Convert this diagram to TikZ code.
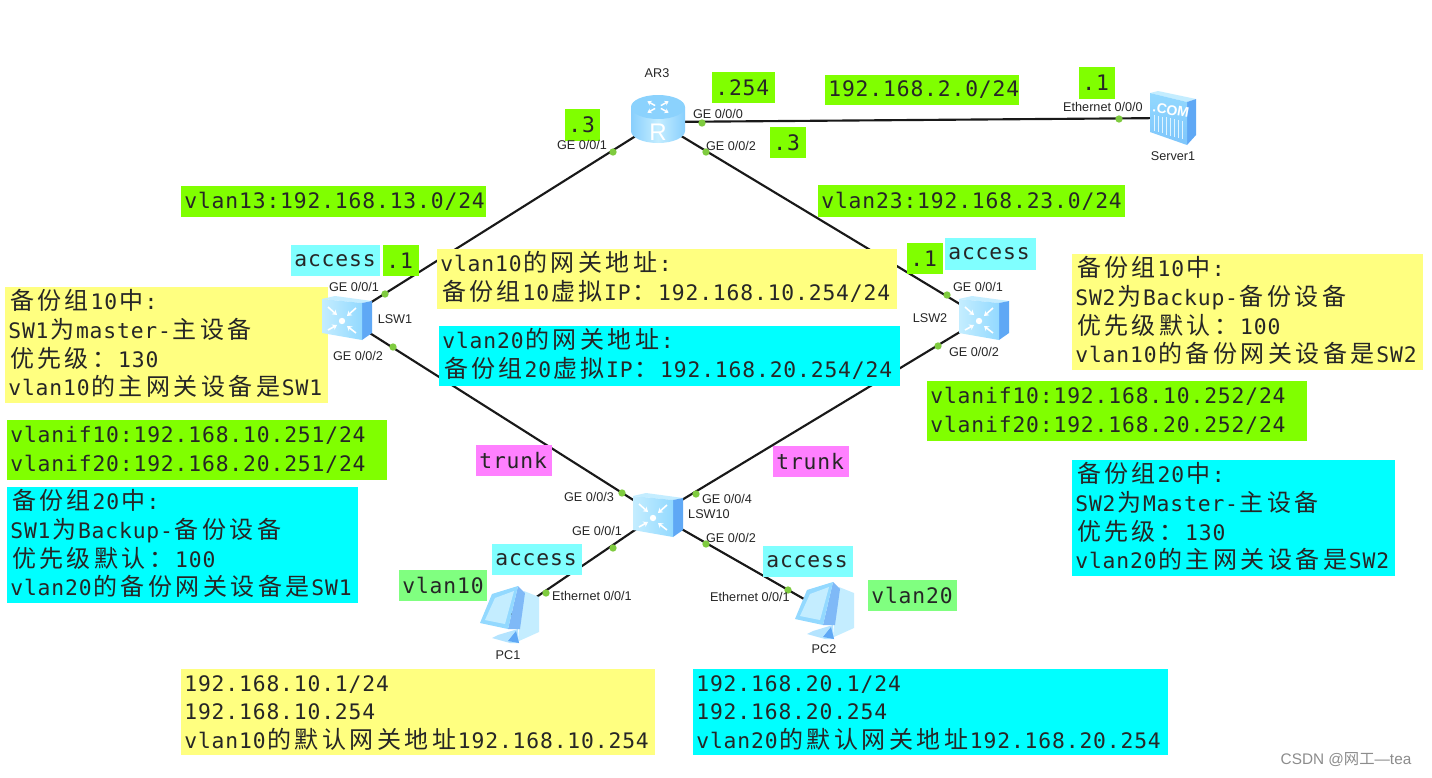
\documentclass[tikz,border=0pt]{standalone}
\usepackage{fontspec}
\setmainfont[LetterSpace=4]{DejaVu Sans Mono}
\newfontfamily\cjkfam{Noto Sans CJK SC}
\newfontfamily\labfam{Liberation Sans}
\newfontfamily\wmcjk{Noto Sans CJK SC}
\usetikzlibrary{arrows.meta}
\definecolor{cgreen}{HTML}{80FF00}
\definecolor{cyel}{HTML}{FFFF80}
\definecolor{ccyan}{HTML}{00FFFF}
\definecolor{caccess}{HTML}{80FFFF}
\definecolor{cmag}{HTML}{FF80FF}
\definecolor{clgreen}{HTML}{80FF80}
\definecolor{cdot}{HTML}{7FCB3F}
\definecolor{icolight}{HTML}{C4EDFF}
\definecolor{icomid}{HTML}{93D9FF}
\definecolor{icoblue}{HTML}{5FA8F5}
\def\zhloop#1{\ifx#1\relax\else\hbox to 20.6pt{\hss#1\hss}\expandafter\zhloop\fi}
\newcommand{\zh}[1]{\smash{\fontsize{18}{21.5}\selectfont\cjkfam\zhloop#1\relax}}
\tikzset{
  x=0.75pt,y=-0.75pt,
  textbox/.style={rectangle,inner xsep=2.5pt,inner ysep=0pt,align=left,text=black!85,
    font=\fontsize{16}{21.5}\selectfont},
  devlabel/.style={inner sep=0pt,text=black!85,font=\labfam\fontsize{9.5}{10}\selectfont},
  linkline/.style={draw=black!90,line width=1.6pt},
  portdot/.style={circle,fill=cdot,draw=none,minimum size=5.5pt,inner sep=0pt},
  device/.style={inner sep=0pt,minimum size=30pt,draw=none},
  chev/.style={draw=white,line width=1.2pt,-{Stealth[length=3.5pt,width=4.5pt]}}
}
\newcommand{\bx}[7]{%
  \pgfmathsetmacro\bw{(#4-#2)*0.75}\pgfmathsetmacro\bh{(#5-#3)*0.75}%
  \pgfmathsetmacro\bcx{(#2+#4)/2}\pgfmathsetmacro\bcy{(#3+#5)/2}%
  \node[textbox,fill=#6,text width=\bw pt-5pt,minimum height=\bh pt] (#1) at (\bcx,\bcy) {#7};}
\newcommand{\swicon}[2]{%
  \begin{scope}[shift={(#1,#2)}]
    \fill[icolight] (-24,-19)--(-11,-22)--(26,-17)--(16,-15)--cycle;
    \fill[icoblue] (16,-15)--(26,-17)--(26,15)--(16,22)--cycle;
    \shade[left color=icolight,right color=icomid] (-24,-19)--(16,-15)--(16,22)--(-24,15)--cycle;
    \fill[white] (-4,3) circle (3.2);
    \draw[chev] (-18,-11)--(-9,-3);
    \draw[chev] (10,-10)--(1,-2);
    \draw[chev] (-18,12)--(-9,7);
    \draw[chev] (10,15)--(1,8);
  \end{scope}}
\newcommand{\pcicon}[2]{%
  \begin{scope}[shift={(#1,#2)}]
    \fill[icolight] (14,-24)--(29,-18)--(29,17)--(9,26)--(9,-14)--cycle;
    \fill[icomid!70!white] (-12,20)--(8,14)--(9,28)--(0,28)--(-18,23)--cycle;
    \fill[icoblue] (-2,26)--(6,16)--(9,28)--cycle;
    \fill[icoblue!80!white] (8,-29)--(15,-22)--(10,14)--(-2,14)--cycle;
    \fill[icomid] (-30,8)--(-18,-21)--(8,-29)--(-2,14)--cycle;
    \fill[icolight] (-25,5)--(-15,-17)--(4,-24)--(-5,9)--cycle;
  \end{scope}}
\begin{document}
\begin{tikzpicture}
\useasboundingbox (0,0) rectangle (1432,778);
\fill[white] (0,0) rectangle (1432,778);
% devices (anchors)
\node[device] (ar3) at (658,122) {};
\node[device] (srv) at (1172,118) {};
\node[device] (lsw1) at (346,318) {};
\node[device] (lsw2) at (983,318) {};
\node[device] (lsw10) at (657,515) {};
\node[device] (pc1) at (510,615) {};
\node[device] (pc2) at (825,611) {};
% links
\draw[linkline] (ar3.center) -- (srv.center);
\draw[linkline] (ar3.center) -- (lsw1.center);
\draw[linkline] (ar3.center) -- (lsw2.center);
\draw[linkline] (lsw1.center) -- (lsw10.center);
\draw[linkline] (lsw2.center) -- (lsw10.center);
\draw[linkline] (lsw10.center) -- (pc1.center);
\draw[linkline] (lsw10.center) -- (pc2.center);
% text boxes
\bx{b254}{712}{72}{775}{103}{cgreen}{.254}
\bx{bnet2}{825}{75}{1019}{105}{cgreen}{192.168.2.0/24}
\bx{bsrv1}{1079}{67}{1115}{99}{cgreen}{.1}
\bx{bdotl}{565}{109}{600}{141}{cgreen}{.3}
\bx{bdotr}{770}{127}{806}{158}{cgreen}{.3}
\bx{bv13}{181}{186}{486}{217}{cgreen}{vlan13:192.168.13.0/24}
\bx{bv23}{818}{185}{1125}{217}{cgreen}{vlan23:192.168.23.0/24}
\bx{bacl}{291}{245}{380}{276}{caccess}{access}
\bx{bdl}{383}{245}{419}{276}{cgreen}{.1}
\bx{bdr}{907}{243}{943}{274}{cgreen}{.1}
\bx{bacr}{945}{238}{1036}{270}{caccess}{access}
\bx{bcy}{437}{249}{897}{309}{cyel}{vlan10\zh{的网关地址}:\\\zh{备份组}10\zh{虚拟}IP\zh{：}192.168.10.254/24}
\bx{bcc}{439}{326}{900}{386}{ccyan}{vlan20\zh{的网关地址}:\\\zh{备份组}20\zh{虚拟}IP\zh{：}192.168.20.254/24}
\bx{bly}{5}{287}{328}{403}{cyel}{\zh{备份组}10\zh{中}:\\SW1\zh{为}master-\zh{主设备}\\\zh{优先级：}130\\vlan10\zh{的主网关设备是}SW1}
\bx{blg}{7}{420}{387}{480}{cgreen}{vlanif10:192.168.10.251/24\\vlanif20:192.168.20.251/24}
\bx{blc}{7}{487}{358}{603}{ccyan}{\zh{备份组}20\zh{中}:\\SW1\zh{为}Backup-\zh{备份设备}\\\zh{优先级默认：}100\\vlan20\zh{的备份网关设备是}SW1}
\bx{btl}{476}{445}{552}{476}{cmag}{trunk}
\bx{btr}{773}{446}{849}{477}{cmag}{trunk}
\bx{bap1}{492}{544}{582}{575}{caccess}{access}
\bx{bap2}{763}{546}{853}{577}{caccess}{access}
\bx{bv10}{399}{570}{487}{601}{clgreen}{vlan10}
\bx{bv20}{868}{580}{957}{611}{clgreen}{vlan20}
\bx{bby}{181}{669}{655}{755}{cyel}{192.168.10.1/24\\192.168.10.254\\vlan10\zh{的默认网关地址}192.168.10.254}
\bx{bbc}{693}{669}{1168}{755}{ccyan}{192.168.20.1/24\\192.168.20.254\\vlan20\zh{的默认网关地址}192.168.20.254}
\bx{bry}{1072}{254}{1423}{370}{cyel}{\zh{备份组}10\zh{中}:\\SW2\zh{为}Backup-\zh{备份设备}\\\zh{优先级默认：}100\\vlan10\zh{的备份网关设备是}SW2}
\bx{brg}{927}{381}{1307}{441}{cgreen}{vlanif10:192.168.10.252/24\\vlanif20:192.168.20.252/24}
\bx{brc}{1072}{460}{1395}{576}{ccyan}{\zh{备份组}20\zh{中}:\\SW2\zh{为}Master-\zh{主设备}\\\zh{优先级：}130\\vlan20\zh{的主网关设备是}SW2}
% port dots
\foreach \n/\a/\b in {d1/702/123,d2/613/152,d3/706/152,d4/1119/119,d5/385/294,d6/393/347,d7/622/493,d8/696/494,d9/613/548,d10/706/544,d11/546/593,d12/788/590,d13/947/295,d14/938/346}
  \node[portdot] (\n) at (\a,\b) {};
% router icon
\begin{scope}[shift={(658,122)}]
  \shade[left color=icomid!80!icoblue,right color=icomid!80!icoblue,middle color=icolight]
    (-27,-15) -- (-27,9) arc[start angle=180,end angle=0,x radius=27,y radius=12] -- (27,-15) -- cycle;
  \fill[icomid!85!icoblue] (0,-15) ellipse[x radius=27,y radius=12];
  \foreach \r in {45,135,225,315}
    \draw[draw=white,line width=1.1pt,-{Stealth[length=3pt,width=4pt]}] (0,-15) ++(\r:4 and 2) -- ++(\r:11 and 6);
\end{scope}
\node[inner sep=0pt,text=white,font=\labfam\fontsize{18}{18}\selectfont] (rletter) at (658,132) {R};
% server icon
\begin{scope}[shift={(1172,118)}]
  \fill[icolight] (-22,-25)--(-14,-27)--(24,-19)--(15,-16)--cycle;
  \fill[icoblue] (15,-16)--(24,-19)--(24,17)--(15,27)--cycle;
  \shade[top color=icomid,bottom color=icomid!60!icoblue] (-22,-25)--(15,-16)--(15,27)--(-22,14)--cycle;
  \foreach \t in {-18,-14,...,12}
    \draw[white!70!icomid,line width=.6pt] (\t,{-3+(\t+18)*.2}) -- (\t,{13+(\t+18)*.3});
\end{scope}
\node[inner sep=0pt,text=white,rotate=-10,font=\labfam\bfseries\fontsize{10.5}{11}\selectfont] (comtext) at (1171,110) {.COM};
% switches and PCs
\swicon{346}{318}
\swicon{983}{318}
\swicon{657}{515}
\pcicon{510}{615}
\pcicon{825}{611}
% device labels
\node[devlabel] (tar3) at (657,73) {AR3};
\node[devlabel] (tsrv) at (1173,156) {Server1};
\node[devlabel] (tl1) at (395,319) {LSW1};
\node[devlabel] (tl2) at (930,318) {LSW2};
\node[devlabel] (tl10) at (709,514) {LSW10};
\node[devlabel] (tp1) at (508,655) {PC1};
\node[devlabel] (tp2) at (824,649) {PC2};
\node[devlabel] (p1) at (718,114) {GE 0/0/0};
\node[devlabel] (p2) at (582,145) {GE 0/0/1};
\node[devlabel] (p3) at (731,146) {GE 0/0/2};
\node[devlabel] (p4) at (1103,107) {Ethernet 0/0/0};
\node[devlabel] (p5) at (354,287) {GE 0/0/1};
\node[devlabel] (p6) at (358,356) {GE 0/0/2};
\node[devlabel] (p7) at (978,287) {GE 0/0/1};
\node[devlabel] (p8) at (974,352) {GE 0/0/2};
\node[devlabel] (p9) at (589,497) {GE 0/0/3};
\node[devlabel] (p10) at (727,499) {GE 0/0/4};
\node[devlabel] (p11) at (597,531) {GE 0/0/1};
\node[devlabel] (p12) at (731,538) {GE 0/0/2};
\node[devlabel] (p13) at (592,596) {Ethernet 0/0/1};
\node[devlabel] (p14) at (750,597) {Ethernet 0/0/1};
\node[inner sep=0pt,text=black!45,font=\labfam\fontsize{11.5}{13}\selectfont] (wm) at (1346,760) {CSDN @{\wmcjk 网工}—tea};
\end{tikzpicture}
\end{document}
